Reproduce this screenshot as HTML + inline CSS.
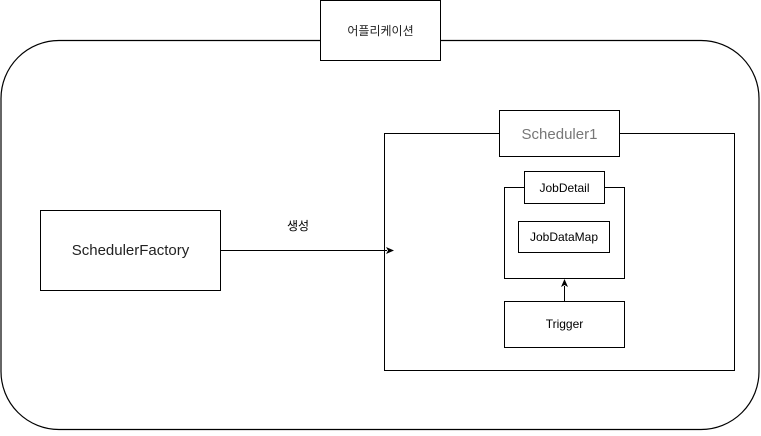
<!DOCTYPE html>
<html><head><meta charset="utf-8"><style>
html,body{margin:0;padding:0;background:#fff;}
svg text{font-family:"Liberation Sans","Noto Sans CJK KR",sans-serif;}
</style></head><body>
<svg width="761" height="431" viewBox="0 0 761 431" xmlns="http://www.w3.org/2000/svg">
<rect x="1" y="40.5" width="758" height="389" rx="58" ry="58" fill="#fff" stroke="#000" stroke-width="1.2"/>
<rect x="320.5" y="0.5" width="120" height="60" fill="#fff" stroke="#000"/>
<text x="380.5" y="35" font-size="12" text-anchor="middle" fill="#222">어플리케이션</text>
<rect x="384.5" y="133.5" width="350" height="237" fill="#fff" stroke="#000"/>
<rect x="499.5" y="110.5" width="120" height="46" fill="#fff" stroke="#000"/>
<text x="559.5" y="139" font-size="15" text-anchor="middle" fill="#777">Scheduler1</text>
<rect x="504.5" y="187.5" width="120" height="91" fill="#fff" stroke="#000"/>
<rect x="524.5" y="171.5" width="80" height="32" fill="#fff" stroke="#000"/>
<text x="564.5" y="192" font-size="12" text-anchor="middle">JobDetail</text>
<rect x="518.5" y="221.5" width="91" height="31" fill="#fff" stroke="#000"/>
<text x="564" y="241" font-size="12" text-anchor="middle">JobDataMap</text>
<rect x="504.5" y="301.5" width="120" height="46" fill="#fff" stroke="#000"/>
<text x="564.5" y="328" font-size="12" text-anchor="middle">Trigger</text>
<line x1="564.5" y1="301" x2="564.5" y2="286" stroke="#000"/>
<polygon points="564.5,279 568,287 564.5,285 561,287" fill="#000"/>
<rect x="40.5" y="210.5" width="180" height="80" fill="#fff" stroke="#000"/>
<text x="130.5" y="255" font-size="15" text-anchor="middle" fill="#222">SchedulerFactory</text>
<line x1="220.5" y1="250.5" x2="387" y2="250.5" stroke="#000"/>
<polygon points="394,250.5 386,254 388,250.5 386,247" fill="#000"/>
<text x="298" y="230" font-size="12" text-anchor="middle">생성</text>
</svg>
</body></html>
